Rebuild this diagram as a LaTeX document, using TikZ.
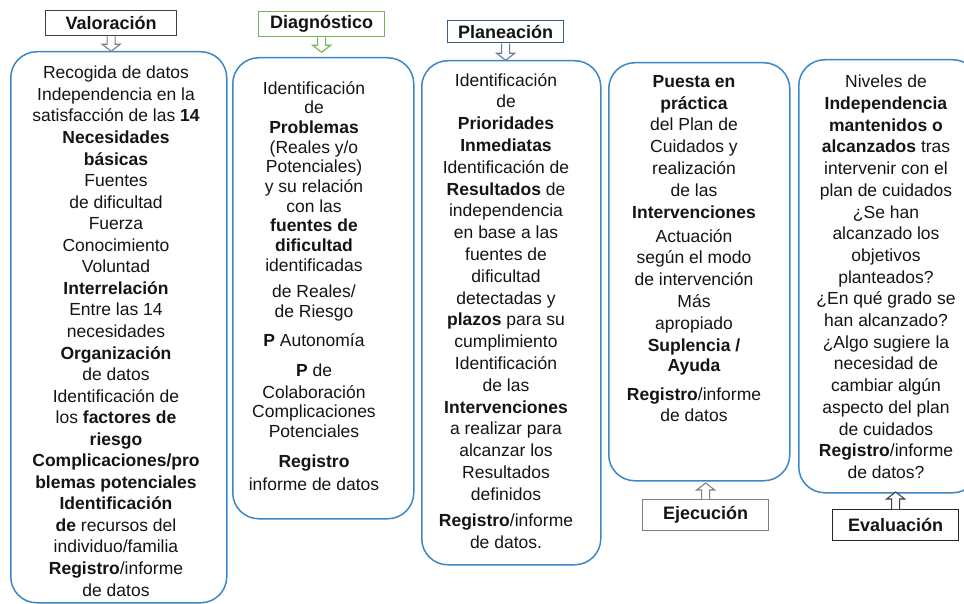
\documentclass[tikz,border=0pt]{standalone}
\usepackage{fontspec}
\setmainfont{Liberation Sans}
\definecolor{boxblue}{RGB}{58,135,201}
\definecolor{txt}{RGB}{20,20,20}
\definecolor{lvgray}{RGB}{64,64,64}
\definecolor{dgreen}{RGB}{120,178,82}
\definecolor{pslate}{RGB}{60,92,134}
\definecolor{egray}{RGB}{128,128,128}
\definecolor{evdark}{RGB}{38,38,38}
\newcommand{\hollowdown}[3]{\draw[hollowarrow,#1] (#2) ++(-4,0) -- ++(0,#3) -- ++(-5,0) -- ++(9,7) -- ++(9,-7) -- ++(-5,0) -- ++(0,-#3);}
\newcommand{\hollowup}[3]{\draw[hollowarrow,#1] (#2) ++(-4,0) -- ++(0,-#3) -- ++(-5,0) -- ++(9,-7) -- ++(9,7) -- ++(-5,0) -- ++(0,#3);}
\begin{document}
\begin{tikzpicture}[x=1pt,y=-1pt,
  bigbox/.style={draw=boxblue, line width=1.5pt, rounded corners=26pt, anchor=north west, inner sep=0pt},
  coltext/.style={align=center, inner sep=0pt, anchor=north, text=txt},
  labelbox/.style={draw, line width=1.3pt, fill=white, anchor=north west, inner sep=0pt, text=txt,
    font=\bfseries\fontsize{18}{20}\selectfont},
  hollowarrow/.style={line width=1.1pt, fill=white, line join=miter}]
\useasboundingbox (0,0) rectangle (964,604);
\clip (0,0) rectangle (964,604);

% big boxes
\node[bigbox, minimum width=216, minimum height=551] (b1) at (10,51) {};
\node[bigbox, minimum width=181, minimum height=461] (b2) at (232,57) {};
\node[bigbox, minimum width=179, minimum height=504] (b3) at (421,60) {};
\node[bigbox, minimum width=181, minimum height=418] (b4) at (608,62) {};
\node[bigbox, minimum width=180, minimum height=433] (b5) at (798,59) {};

% label boxes
\node[labelbox, draw=lvgray, minimum width=131, minimum height=25] (lv) at (45,10) {Valoración};
\node[labelbox, draw=dgreen, minimum width=126, minimum height=25] (ld) at (258,11) {Diagnóstico};
\node[labelbox, draw=pslate, minimum width=116, minimum height=22] (lp) at (447,20) {Planeación};
\node[labelbox, draw=egray, minimum width=126, minimum height=31] (le) at (642,499) {Ejecución};
\node[labelbox, draw=evdark, minimum width=126, minimum height=31] (lev) at (832,509) {Evaluación};

% hollow arrows
\hollowdown{draw=egray}{lv.south}{8}
\hollowdown{draw=dgreen}{ld.south}{8}
\hollowdown{draw=pslate!80}{lp.south}{10}
\hollowup{draw=egray}{le.north}{9}
\hollowup{draw=lvgray}{lev.north}{10}

% column texts
\node[coltext, font=\fontsize{17.5}{21.55}\selectfont] (t1) at (116,66) {%
Recogida de datos\\
Independencia en la\\
satisfacción de las \textbf{14}\\
\textbf{Necesidades}\\
\textbf{básicas}\\
Fuentes\\
de dificultad\\
Fuerza\\
Conocimiento\\
Voluntad\\
\textbf{Interrelación}\\
Entre las 14\\
necesidades\\
\textbf{Organización}\\
de datos\\
Identificación de\\
los \textbf{factores de}\\
\textbf{riesgo}\\
\textbf{Complicaciones/pro}\\
\textbf{blemas potenciales}\\
\textbf{Identificación}\\
\textbf{de} recursos del\\
individuo/familia\\
\textbf{Registro}/informe\\
de datos};

\node[coltext, font=\fontsize{17.5}{19.7}\selectfont] (t2) at (314,81) {%
Identificación\\
de\\
\textbf{Problemas}\\
(Reales y/o\\
Potenciales)\\
y su relación\\
con las\\
\textbf{fuentes de}\\
\textbf{dificultad}\\
identificadas\\[6.3pt]
de Reales/\\
de Riesgo\\[9.3pt]
\textbf{P} Autonomía\\[10.3pt]
\textbf{P} de\\[2.3pt]
Colaboración\\
Complicaciones\\
Potenciales\\[10.3pt]
\textbf{Registro}\\[3.3pt]
informe de datos};

\node[coltext, font=\fontsize{17.5}{21.8}\selectfont] (t3) at (506,73) {%
Identificación\\
de\\
\textbf{Prioridades}\\
\textbf{Inmediatas}\\
Identificación de\\
\textbf{Resultados} de\\
independencia\\
en base a las\\
fuentes de\\
dificultad\\
detectadas y\\
\textbf{plazos} para su\\
cumplimiento\\
Identificación\\
de las\\
\textbf{Intervenciones}\\
a realizar para\\
alcanzar los\\
Resultados\\
definidos\\[4.2pt]
\textbf{Registro}/informe\\
de datos.};

\node[coltext, font=\fontsize{17.5}{21.8}\selectfont] (t4) at (694,75) {%
\textbf{Puesta en}\\
\textbf{práctica}\\
del Plan de\\
Cuidados y\\
realización\\
de las\\
\textbf{Intervenciones}\\[2.2pt]
Actuación\\
según el modo\\
de intervención\\
Más\\
apropiado\\
\textbf{Suplencia /}\\[-1.8pt]
\textbf{Ayuda}\\[7.2pt]
\textbf{Registro}/informe\\
de datos};

\node[coltext, font=\fontsize{17.5}{21.7}\selectfont] (t5) at (886,75) {%
Niveles de\\
\textbf{Independencia}\\
\textbf{mantenidos o}\\
\textbf{alcanzados} tras\\
intervenir con el\\
plan de cuidados\\
¿Se han\\
alcanzado los\\
objetivos\\
planteados?\\
¿En qué grado se\\
han alcanzado?\\
¿Algo sugiere la\\
necesidad de\\
cambiar algún\\
aspecto del plan\\
de cuidados\\
\textbf{Registro}/informe\\
de datos?};
\end{tikzpicture}
\end{document}
